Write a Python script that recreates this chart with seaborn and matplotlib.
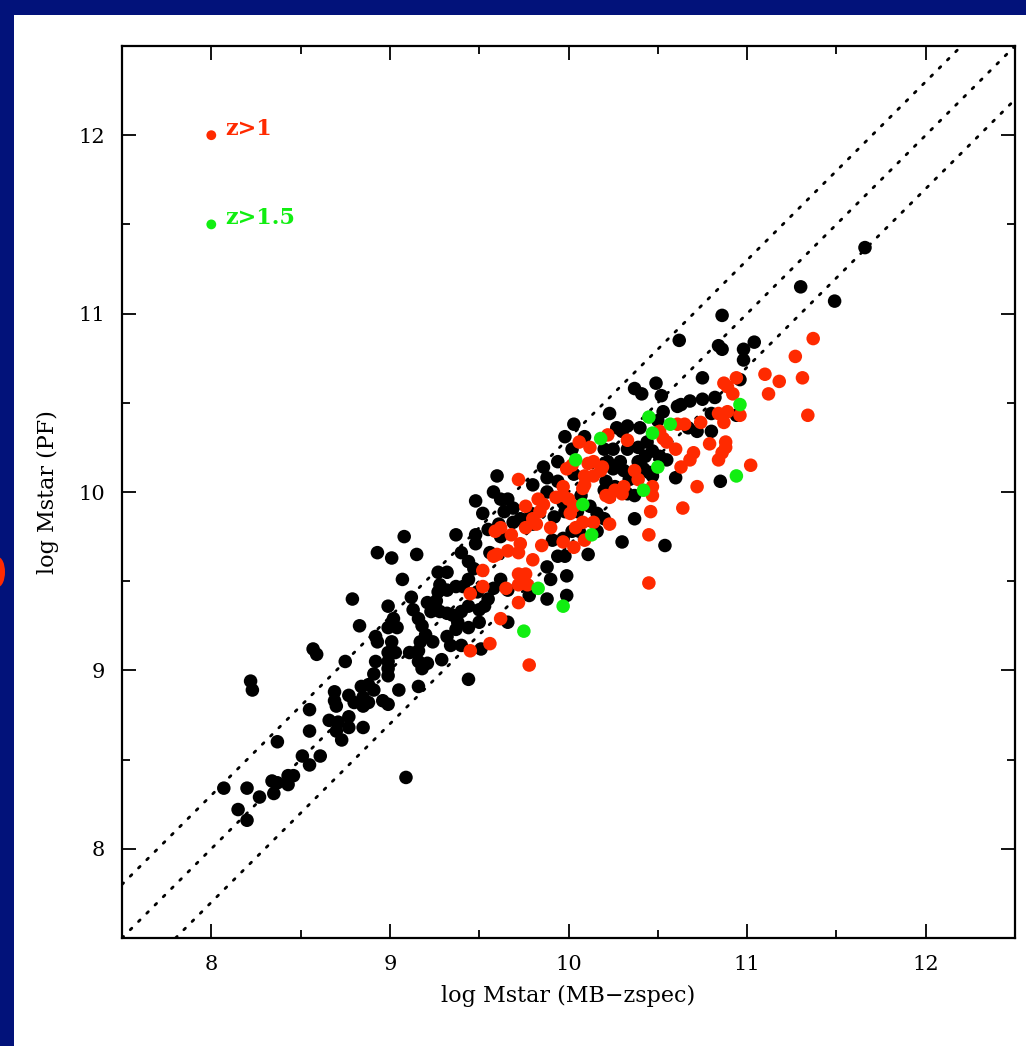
import numpy as np
import pandas as pd
import matplotlib
matplotlib.use("Agg")
import matplotlib.pyplot as plt
from matplotlib.patches import Rectangle, Ellipse
import seaborn as sns

# Stellar masses: photometric fit (PF) vs multi-band with spectroscopic redshift
all_x = [8.22, 8.23, 8.75, 8.92, 8.99, 8.99, 8.99, 9.16, 8.91, 8.84, 8.88, 8.91, 9.05, 9.16,
         8.69, 8.69, 8.70, 8.77, 8.80, 8.85, 8.85, 8.88, 8.96, 8.99, 8.55, 8.66, 8.71, 8.77,
         8.77, 8.85, 8.70, 8.73, 8.55, 8.37, 8.51, 8.55, 8.61, 8.34, 8.37, 8.43, 8.46, 8.43,
         8.07, 8.20, 8.27, 8.35, 8.15, 8.20, 9.09, 9.08, 8.93, 9.01, 9.15, 9.07, 8.79, 8.83,
         8.57, 8.59, 8.99, 9.02, 8.99, 9.04, 8.92, 8.93, 9.01, 9.12, 9.13, 9.16, 9.11, 9.16,
         9.03, 8.99, 9.40, 9.44, 9.47, 9.48, 9.27, 9.32, 9.28, 9.27, 9.32, 9.37, 9.41, 9.44,
         9.49, 9.21, 9.26, 9.26, 9.23, 9.28, 9.32, 9.35, 9.40, 9.44, 9.50, 9.38, 9.37, 9.44,
         9.50, 9.18, 9.20, 9.17, 9.24, 9.32, 9.34, 9.40, 9.51, 9.18, 9.21, 9.29, 9.44, 9.91,
         9.94, 9.99, 9.88, 9.90, 9.78, 9.88, 9.99, 9.56, 9.53, 9.55, 9.58, 9.62, 9.66, 9.66,
         9.60, 9.86, 9.94, 9.48, 9.58, 9.62, 9.66, 9.52, 9.37, 9.64, 9.69, 9.73, 9.80, 9.88,
         9.88, 9.94, 9.79, 9.92, 9.69, 9.61, 9.55, 9.48, 9.62, 9.80, 10.23, 10.03, 10.09, 10.27,
         10.30, 10.33, 10.40, 10.50, 10.53, 10.61, 9.98, 10.02, 10.33, 10.39, 10.44, 10.47,
         10.43, 10.51, 10.55, 10.20, 10.25, 10.22, 10.29, 10.39, 10.03, 10.25, 10.31, 10.42,
         10.21, 10.26, 10.34, 10.45, 10.47, 10.60, 10.20, 10.22, 10.33, 10.37, 9.97, 10.07,
         10.12, 9.98, 10.05, 10.16, 10.02, 10.06, 10.09, 9.97, 9.98, 10.11, 10.20, 10.37,
         10.30, 10.54, 10.16, 10.37, 10.41, 10.49, 10.52, 10.62, 10.86, 10.84, 10.86, 11.04,
         10.98, 10.98, 10.75, 10.96, 10.63, 10.68, 10.75, 10.82, 10.80, 10.94, 10.67, 10.72,
         10.80, 10.85, 11.66, 11.30, 11.49]
all_y = [8.94, 8.89, 9.05, 9.05, 9.05, 9.01, 8.97, 9.05, 8.98, 8.91, 8.92, 8.89, 8.89, 8.91,
         8.88, 8.83, 8.80, 8.86, 8.82, 8.85, 8.80, 8.82, 8.83, 8.81, 8.78, 8.72, 8.71, 8.74,
         8.68, 8.68, 8.66, 8.61, 8.66, 8.60, 8.52, 8.47, 8.52, 8.38, 8.37, 8.41, 8.41, 8.36,
         8.34, 8.34, 8.29, 8.31, 8.22, 8.16, 8.40, 9.75, 9.66, 9.63, 9.65, 9.51, 9.40, 9.25,
         9.12, 9.09, 9.36, 9.29, 9.24, 9.24, 9.19, 9.16, 9.16, 9.41, 9.34, 9.29, 9.10, 9.11,
         9.10, 9.10, 9.66, 9.61, 9.57, 9.71, 9.55, 9.55, 9.48, 9.44, 9.45, 9.47, 9.47, 9.51,
         9.44, 9.38, 9.39, 9.34, 9.33, 9.33, 9.32, 9.31, 9.33, 9.36, 9.34, 9.27, 9.23, 9.24,
         9.27, 9.25, 9.20, 9.16, 9.16, 9.19, 9.14, 9.14, 9.12, 9.01, 9.04, 9.06, 8.95, 9.73,
         9.64, 9.53, 9.58, 9.51, 9.42, 9.40, 9.42, 9.66, 9.36, 9.40, 9.46, 9.51, 9.45, 9.27,
         10.09, 10.14, 10.17, 9.95, 10.00, 9.96, 9.96, 9.88, 9.76, 9.89, 9.91, 9.85, 10.04, 10.08,
         10.00, 10.06, 9.88, 9.86, 9.83, 9.82, 9.79, 9.76, 9.75, 9.82, 10.44, 10.38, 10.31, 10.36,
         10.34, 10.37, 10.36, 10.40, 10.45, 10.48, 10.31, 10.24, 10.24, 10.25, 10.28, 10.23,
         10.20, 10.20, 10.18, 10.24, 10.24, 10.17, 10.17, 10.17, 10.10, 10.13, 10.12, 10.13,
         10.06, 10.03, 10.07, 10.11, 10.09, 10.08, 10.01, 10.00, 9.99, 9.98, 9.94, 9.98,
         9.92, 9.89, 9.89, 9.88, 9.78, 9.78, 9.74, 9.74, 9.64, 9.65, 9.85, 9.85,
         9.72, 9.70, 9.78, 10.58, 10.55, 10.61, 10.54, 10.85, 10.99, 10.82, 10.80, 10.84,
         10.80, 10.74, 10.64, 10.63, 10.49, 10.51, 10.52, 10.53, 10.44, 10.43, 10.36, 10.34,
         10.34, 10.06, 11.37, 11.15, 11.07]

# Galaxies at z > 1
z1_x = [9.97, 9.85, 9.73, 9.72, 9.66, 9.60, 9.58, 9.80, 9.52, 9.72, 9.76, 9.72, 9.77, 9.65,
        9.52, 9.45, 9.72, 9.62, 9.56, 9.45, 9.78, 9.72, 9.83, 9.86, 9.84, 9.76, 9.80, 9.82,
        9.76, 9.62, 9.59, 9.68, 9.90, 9.93, 10.22, 10.06, 10.12, 10.33, 9.99, 10.02, 10.11,
        10.14, 10.09, 10.14, 10.18, 10.19, 10.09, 10.08, 10.37, 10.39, 10.31, 10.26, 10.30,
        10.21, 10.23, 9.97, 9.97, 10.00, 10.03, 10.01, 10.04, 10.08, 10.14, 10.23, 10.03,
        10.09, 10.46, 10.47, 10.47, 10.53, 10.55, 10.60, 10.51, 10.63, 10.64, 10.45, 10.61,
        10.45, 11.37, 11.27, 11.10, 11.18, 11.31, 11.12, 11.34, 10.94, 10.87, 10.89, 10.92,
        10.84, 10.89, 10.96, 10.87, 10.74, 10.65, 10.79, 10.88, 10.88, 10.86, 10.84, 10.70,
        10.68, 11.02, 10.72]
z1_y = [9.72, 9.70, 9.71, 9.66, 9.67, 9.65, 9.64, 9.62, 9.56, 9.54, 9.54, 9.48, 9.48, 9.46,
        9.47, 9.43, 9.38, 9.29, 9.15, 9.11, 9.03, 10.07, 9.96, 9.93, 9.89, 9.92, 9.85, 9.82,
        9.80, 9.80, 9.78, 9.76, 9.80, 9.97, 10.32, 10.28, 10.25, 10.29, 10.13, 10.15, 10.16,
        10.17, 10.09, 10.09, 10.12, 10.14, 10.04, 10.02, 10.12, 10.07, 10.03, 10.01, 9.99,
        9.98, 9.97, 10.03, 9.98, 9.96, 9.92, 9.88, 9.80, 9.83, 9.83, 9.82, 9.69,
        9.73, 9.89, 9.98, 10.03, 10.30, 10.28, 10.24, 10.34, 10.14, 9.91, 9.76, 10.38,
        9.49, 10.86, 10.76, 10.66, 10.62, 10.64, 10.55, 10.43, 10.64, 10.61, 10.59, 10.55,
        10.44, 10.45, 10.43, 10.39, 10.39, 10.38, 10.27, 10.28, 10.25, 10.22, 10.18, 10.22,
        10.18, 10.15, 10.03]

# Galaxies at z > 1.5
z15_x = [9.83, 9.97, 9.75, 10.45, 10.57, 10.47, 10.18, 10.04, 10.50, 10.42, 10.08, 10.13,
         10.96, 10.94]
z15_y = [9.46, 9.36, 9.22, 10.42, 10.38, 10.33, 10.30, 10.18, 10.14, 10.01, 9.93, 9.76,
         10.49, 10.09]

# Reference lines y = x + offset
line_offsets = [0.3, 0.0, -0.3]

# Key entries drawn inside the panel
key_labels = ["z>1", "z>1.5"]
key_x = [8.0, 8.0]
key_y = [12.0, 11.5]

tick_values = [8, 9, 10, 11, 12]
axis_limits = (7.5, 12.5)

RED = "#ff2a00"
GREEN = "#11ee11"
NAVY = "#02127a"

df = pd.concat([
    pd.DataFrame({"mb": all_x, "pf": all_y, "sample": "all"}),
    pd.DataFrame({"mb": z1_x, "pf": z1_y, "sample": "z>1"}),
    pd.DataFrame({"mb": z15_x, "pf": z15_y, "sample": "z>1.5"}),
], ignore_index=True)

sns.set_theme(style="ticks")
plt.rcParams["font.family"] = ["DejaVu Serif", "DejaVu Sans"]
plt.rcParams["text.color"] = "black"
plt.rcParams["axes.labelcolor"] = "black"
plt.rcParams["xtick.color"] = "black"
plt.rcParams["ytick.color"] = "black"

fig = plt.figure(figsize=(10.26, 10.46), dpi=100)
fig.patch.set_facecolor(NAVY)
fig.patches.append(Rectangle((14 / 1026, 0), 1 - 14 / 1026, 1 - 15 / 1046,
                             transform=fig.transFigure, facecolor="white",
                             edgecolor="none", zorder=-10))
fig.patches.append(Ellipse((-2 / 1026, 1 - 572 / 1046), 14 / 1026, 30 / 1046,
                           transform=fig.transFigure, facecolor=RED,
                           edgecolor="none", zorder=-5))

ax = fig.add_axes([122 / 1026, 1 - 938 / 1046, 893 / 1026, 892 / 1046])
ax.set_facecolor("white")

for off in line_offsets:
    ax.axline((axis_limits[0], axis_limits[0] + off), slope=1, color="black",
              linestyle=(0, (0.8, 3.4)), linewidth=2.0, dash_capstyle="round", zorder=1)

sns.scatterplot(data=df, x="mb", y="pf", hue="sample",
                hue_order=["all", "z>1", "z>1.5"],
                palette={"all": "black", "z>1": RED, "z>1.5": GREEN},
                s=95, linewidth=0, legend=False, ax=ax, zorder=3)

key_colors = [RED, GREEN]
sns.scatterplot(x=key_x, y=key_y, hue=key_labels, palette=dict(zip(key_labels, key_colors)),
                s=50, linewidth=0, legend=False, ax=ax, zorder=3)
for lab, kx, ky, kc in zip(key_labels, key_x, key_y, key_colors):
    ax.text(kx + 0.08, ky, lab, color=kc, fontsize=16, fontweight="bold",
            va="baseline", ha="left")

ax.set_xlim(*axis_limits)
ax.set_ylim(*axis_limits)
ax.set_xticks(tick_values)
ax.set_yticks(tick_values)
ax.set_xticks(np.arange(7.5, 12.51, 0.5), minor=True)
ax.set_yticks(np.arange(7.5, 12.51, 0.5), minor=True)
ax.tick_params(which="both", direction="in", top=True, right=True, color="black", width=1.3)
ax.tick_params(which="major", length=10, labelsize=15, pad=12, labelcolor="black")
ax.tick_params(which="minor", length=5.5)
for sp in ax.spines.values():
    sp.set_linewidth(1.6)
    sp.set_color("black")

ax.set_xlabel("log Mstar (MB\u2212zspec)", fontsize=16, labelpad=8, color="black")
ax.set_ylabel("log Mstar (PF)", fontsize=16, labelpad=14, color="black")

fig.savefig("out.png", dpi=100, facecolor=fig.get_facecolor())
